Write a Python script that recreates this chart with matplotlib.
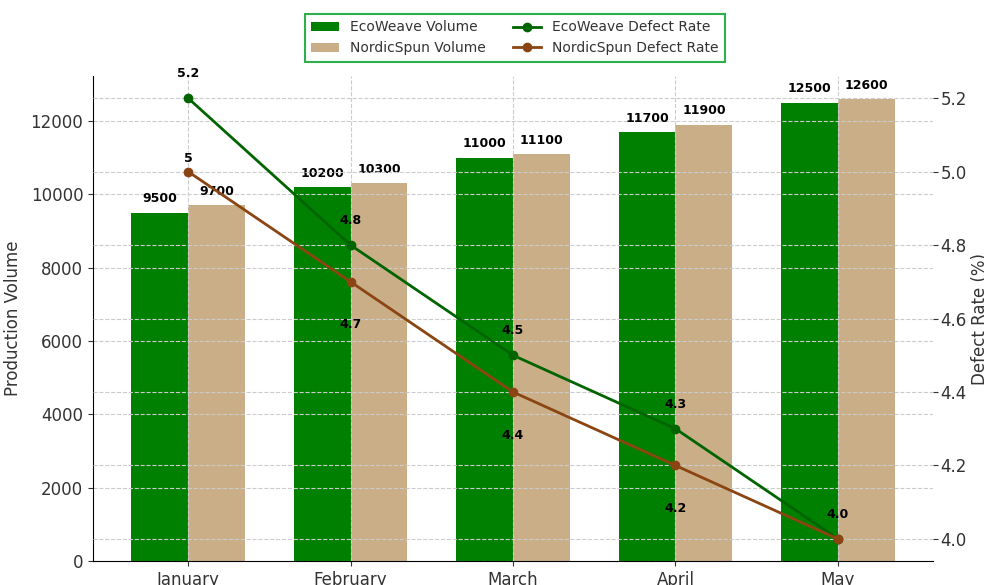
"""
Volumen de producción y tasa de defectos por mes para EcoWeave y NordicSpun.
"""
import numpy as np
import matplotlib.pyplot as plt
from matplotlib.transforms import offset_copy

months = ["January", "February", "March", "April", "May"]
ecoweave_volume = [9500, 10200, 11000, 11700, 12500]
nordicspun_volume = [9700, 10300, 11100, 11900, 12600]
ecoweave_defect = [5.2, 4.8, 4.5, 4.3, 4.0]
nordicspun_defect = [5, 4.7, 4.4, 4.2, 4.0]

GREEN = "#008000"
TAN = "#C9AE87"
LINE_GREEN = "#006400"
LINE_BROWN = "#8B4513"

plt.rcParams["font.family"] = "DejaVu Sans"

fig = plt.figure(figsize=(9.84, 5.85), dpi=100)
ax = fig.add_axes([0.0945, 0.041, 0.8537, 0.829])

x = np.arange(len(months))
width = 0.35

bars1 = ax.bar(x - width / 2, ecoweave_volume, width, color=GREEN, label="EcoWeave Volume")
bars2 = ax.bar(x + width / 2, nordicspun_volume, width, color=TAN, label="NordicSpun Volume")

for bars in (bars1, bars2):
    for b in bars:
        h = b.get_height()
        ax.text(b.get_x() + b.get_width() / 2, h + 200, f"{h:.0f}",
                ha="center", va="bottom", fontsize=9, fontweight="bold")

ax.set_ylabel("Production Volume", fontsize=12, color="#333333", labelpad=6)
ax.set_xticks(x)
ax.set_xticklabels(months, fontsize=12)
ax.tick_params(axis="y", labelsize=12)
ax.tick_params(colors="#333333")
ax.set_ylim(0, 13230)
ax.grid(True, linestyle="--", color="#cccccc", linewidth=0.8)
ax.spines["top"].set_visible(False)
ax.spines["right"].set_visible(False)

ax2 = ax.twinx()
l1, = ax2.plot(x, ecoweave_defect, color=LINE_GREEN, marker="o", markersize=6,
               linewidth=2, label="EcoWeave Defect Rate")
l2, = ax2.plot(x, nordicspun_defect, color=LINE_BROWN, marker="o", markersize=6,
               linewidth=2, label="NordicSpun Defect Rate")

for xi, v in zip(x, ecoweave_defect):
    ax2.annotate(str(v), (xi, v), xytext=(0, 17.5), textcoords="offset points",
                 ha="center", va="center", fontsize=9, fontweight="bold")
# etiquetas de NordicSpun: recortadas al área del eje
for i, (xi, v) in enumerate(zip(x, nordicspun_defect)):
    dy = 9.5 if i == 0 else -31
    tr = offset_copy(ax2.transData, fig=fig, x=0, y=dy, units="points")
    ax2.text(xi, v, str(v), transform=tr, ha="center", va="center",
             fontsize=9, fontweight="bold", clip_on=True)

ax2.set_ylabel("Defect Rate (%)", fontsize=12, color="#333333", labelpad=3)
ax2.tick_params(axis="y", labelsize=12, colors="#333333", pad=2)
ax2.set_ylim(3.94, 5.26)
ax2.grid(True, linestyle="--", color="#cccccc", linewidth=0.8)
for side in ("top", "right", "left", "bottom"):
    ax2.spines[side].set_visible(False)

handles = [bars1, bars2, l1, l2]
leg = ax.legend(handles, [h.get_label() for h in handles], loc="upper center",
                bbox_to_anchor=(0.502, 1.142), ncol=2, fontsize=10, fancybox=False,
                framealpha=1, columnspacing=2.0, borderpad=0.45)
leg.get_frame().set_edgecolor("#2DB04A")
leg.get_frame().set_linewidth(1.5)
for t in leg.get_texts():
    t.set_color("#333333")

plt.savefig("out.png", dpi=100)
plt.close()
